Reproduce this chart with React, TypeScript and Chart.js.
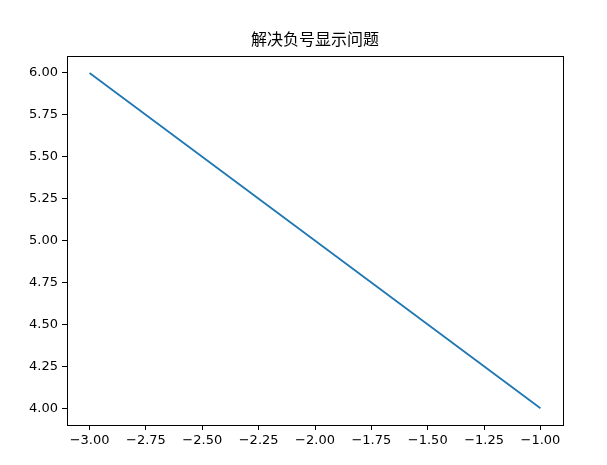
import React, { useEffect, useRef } from "react";
import { Chart, registerables } from "chart.js";

Chart.register(...registerables);

const titleText = "解决负号显示问题";
const xValues = [-3, -1];
const yValues = [6, 4];
const xTicks = [-3.0, -2.75, -2.5, -2.25, -2.0, -1.75, -1.5, -1.25, -1.0];
const yTicks = [4.0, 4.25, 4.5, 4.75, 5.0, 5.25, 5.5, 5.75, 6.0];

const fmt = (v: number) => (v < 0 ? "\u2212" + Math.abs(v).toFixed(2) : v.toFixed(2));

const frame = {
  id: "frame",
  afterDatasetsDraw(chart: any) {
    const { ctx, chartArea } = chart;
    ctx.save();
    ctx.strokeStyle = "#000";
    ctx.lineWidth = 1;
    ctx.strokeRect(
      Math.round(chartArea.left) + 0.5,
      Math.round(chartArea.top) + 0.5,
      Math.round(chartArea.right - chartArea.left),
      Math.round(chartArea.bottom - chartArea.top)
    );
    ctx.restore();
  },
};

export default function App() {
  const ref = useRef<HTMLCanvasElement>(null);
  useEffect(() => {
    document.body.style.margin = "0";
    const chart = new Chart(ref.current!, {
      type: "line",
      data: {
        datasets: [
          {
            data: xValues.map((x, i) => ({ x, y: yValues[i] })),
            borderColor: "#1f77b4",
            borderWidth: 1.8,
            pointRadius: 0,
            fill: false,
            tension: 0,
          },
        ],
      },
      options: {
        animation: false,
        responsive: false,
        layout: { padding: { left: 0, right: 44, top: 0, bottom: 0 } },
        plugins: {
          legend: { display: false },
          tooltip: { enabled: false },
          title: {
            display: true,
            fullSize: false,
            text: titleText,
            color: "#000",
            font: { family: "DejaVu Sans, Noto Sans CJK SC", size: 16, weight: "normal" },
            padding: { top: 31, bottom: 6 },
          },
        },
        scales: {
          x: {
            type: "linear",
            min: -3.1,
            max: -0.9,
            afterBuildTicks: (s: any) => {
              s.ticks = xTicks.map((v) => ({ value: v }));
            },
            afterFit: (s: any) => {
              s.height = 40;
            },
            grid: { drawOnChartArea: false, drawTicks: true, tickLength: 5, color: "#000" },
            border: { display: false },
            ticks: {
              color: "#000",
              font: { family: "DejaVu Sans", size: 13 },
              padding: 3,
              maxRotation: 0,
              autoSkip: false,
              callback: (v: any) => fmt(Number(v)),
            },
          },
          y: {
            type: "linear",
            min: 3.9,
            max: 6.1,
            afterBuildTicks: (s: any) => {
              s.ticks = yTicks.map((v) => ({ value: v }));
            },
            afterFit: (s: any) => {
              s.width = 67;
            },
            grid: { drawOnChartArea: false, drawTicks: true, tickLength: 5, color: "#000" },
            border: { display: false },
            ticks: {
              color: "#000",
              font: { family: "DejaVu Sans", size: 13 },
              padding: 4,
              autoSkip: false,
              callback: (v: any) => fmt(Number(v)),
            },
          },
        },
      },
      plugins: [frame],
    });
    return () => chart.destroy();
  }, []);
  return (
    <div style={{ width: 607, height: 465, background: "#fff" }}>
      <canvas ref={ref} width={607} height={465} />
    </div>
  );
}
